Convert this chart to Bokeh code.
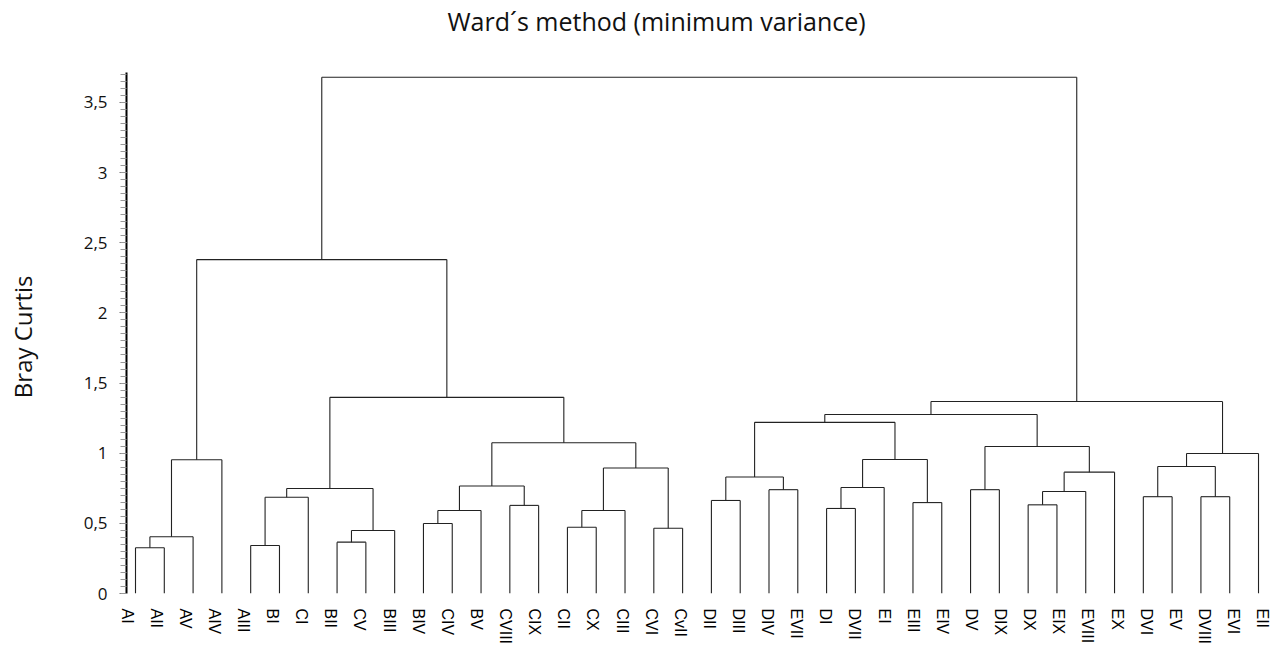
import math
from bokeh.plotting import figure
from bokeh.layouts import row
from bokeh.models import FixedTicker, ColumnDataSource, LinearAxis, Range1d
from bokeh.core.properties import value
from bokeh.embed import file_html
from bokeh.resources import INLINE

# ---- data ----
title_text = "Ward\u00b4s method (minimum variance)"
y_axis_title = "Bray Curtis"

leaf_labels = ["AI", "AII", "AV", "AIV", "AIII", "BI", "CI", "BII", "CV", "BIII",
               "BIV", "CIV", "BV", "CVIII", "CIX", "CII", "CX", "CIII", "CVI", "CvII",
               "DII", "DIII", "DIV", "EVII", "DI", "DVII", "EI", "EIII", "EIV", "DV",
               "DIX", "DX", "EIX", "EVIII", "EX", "DVI", "EV", "DVIII", "EVI", "EII"]

# merges (cluster ids: 0-39 leaves, 40+ merged clusters in order)
merge_left = [0, 40, 41, 4, 43, 7, 45, 44, 10, 48, 13, 49, 15, 52, 18, 53, 51, 47, 42,
              20, 22, 59, 24, 62, 27, 63, 61, 29, 31, 68, 69, 67, 66, 35, 37, 73, 75, 72, 58]
merge_right = [1, 2, 3, 5, 6, 8, 9, 46, 11, 12, 14, 50, 16, 17, 19, 54, 55, 56, 57,
               21, 23, 60, 25, 26, 28, 64, 65, 30, 32, 33, 34, 70, 71, 36, 38, 74, 39, 76, 77]
merge_height = [0.326, 0.404, 0.953, 0.342, 0.686, 0.366, 0.449, 0.748, 0.499, 0.592,
                0.628, 0.766, 0.472, 0.592, 0.465, 0.895, 1.074, 1.398, 2.38,
                0.663, 0.740, 0.830, 0.606, 0.755, 0.648, 0.955, 1.220, 0.740, 0.632,
                0.727, 0.865, 1.048, 1.276, 0.690, 0.690, 0.905, 0.998, 1.368, 3.68]

y_tick_values = [0, 0.5, 1, 1.5, 2, 2.5, 3, 3.5]
y_tick_labels = ["0", "0,5", "1", "1,5", "2", "2,5", "3", "3,5"]

# ---- build dendrogram segments ----
n = len(leaf_labels)
node_x = {i: float(i) for i in range(n)}
node_h = {i: 0.0 for i in range(n)}
x0, y0, x1, y1 = [], [], [], []
for k, (a, b, h) in enumerate(zip(merge_left, merge_right, merge_height)):
    nid = n + k
    xa, xb = node_x[a], node_x[b]
    x0 += [xa, xb, xa]
    y0 += [node_h[a], node_h[b], h]
    x1 += [xa, xb, xb]
    y1 += [h, h, h]
    node_x[nid] = (xa + xb) / 2
    node_h[nid] = h

seg_src = ColumnDataSource(dict(x0=x0, y0=y0, x1=x1, y1=y1))

# ---- left strip holding the y-axis title ----
side = figure(width=60, height=647, output_backend="svg", toolbar_location=None,
              x_range=(0, 60), y_range=(0, 647), x_axis_location=None,
              y_axis_location=None, min_border=0)
side.outline_line_color = None
side.grid.visible = False
side.text(x=[22], y=[280], text=[y_axis_title], angle=math.pi / 2,
          text_align="center", text_baseline="middle",
          text_font=value("Open Sans"), text_font_size="24px", text_color="#111111")

# ---- main dendrogram ----
p = figure(width=1222, height=647, output_backend="svg", toolbar_location=None,
           x_range=(-0.3126, 39.833), y_range=(0, 4.2266),
           x_axis_location=None, min_border_left=66, min_border_right=0,
           min_border_bottom=54, min_border_top=0)
p.outline_line_color = None
p.grid.visible = False
p.background_fill_color = "white"

p.segment("x0", "y0", "x1", "y1", source=seg_src, line_color="#222222", line_width=1.1)

# title
p.text(x=[10.835], y=[4.084], text=[title_text], text_align="left",
       text_baseline="middle", text_font=value("Open Sans"),
       text_font_size="25px", text_color="#111111")

# leaf label axis (own label scale, slightly wider spacing as in the original)
p.extra_x_ranges = {"lab": Range1d(-0.01717, 39.681)}
lab_axis = LinearAxis(x_range_name="lab", ticker=FixedTicker(ticks=list(range(n))),
                      major_label_overrides={i: s for i, s in enumerate(leaf_labels)},
                      major_label_orientation=-math.pi / 2)
lab_axis.axis_line_color = None
lab_axis.major_tick_line_color = None
lab_axis.minor_tick_line_color = None
lab_axis.major_label_standoff = 9
lab_axis.major_label_text_font = "Liberation Sans"
lab_axis.major_label_text_font_size = "16px"
lab_axis.major_label_text_color = "black"
p.add_layout(lab_axis, "below")

# y axis
ax = p.yaxis[0]
ax.ticker = FixedTicker(ticks=y_tick_values,
                        minor_ticks=[round(0.05 * i, 2) for i in range(75)])
ax.major_label_overrides = {v: s for v, s in zip(y_tick_values, y_tick_labels)}
ax.bounds = (0, 3.71)
ax.axis_line_width = 2
ax.axis_line_color = "black"
ax.major_tick_out = 7
ax.major_tick_in = 0
ax.minor_tick_out = 6
ax.minor_tick_in = 0
ax.major_tick_line_color = "#777777"
ax.minor_tick_line_color = "#999999"
ax.major_label_text_font = "Open Sans"
ax.major_label_text_font_size = "17px"
ax.major_label_text_color = "#111111"
ax.major_label_standoff = 12

layout = row(side, p, spacing=0)
open("out.html", "w").write(file_html(layout, INLINE))
